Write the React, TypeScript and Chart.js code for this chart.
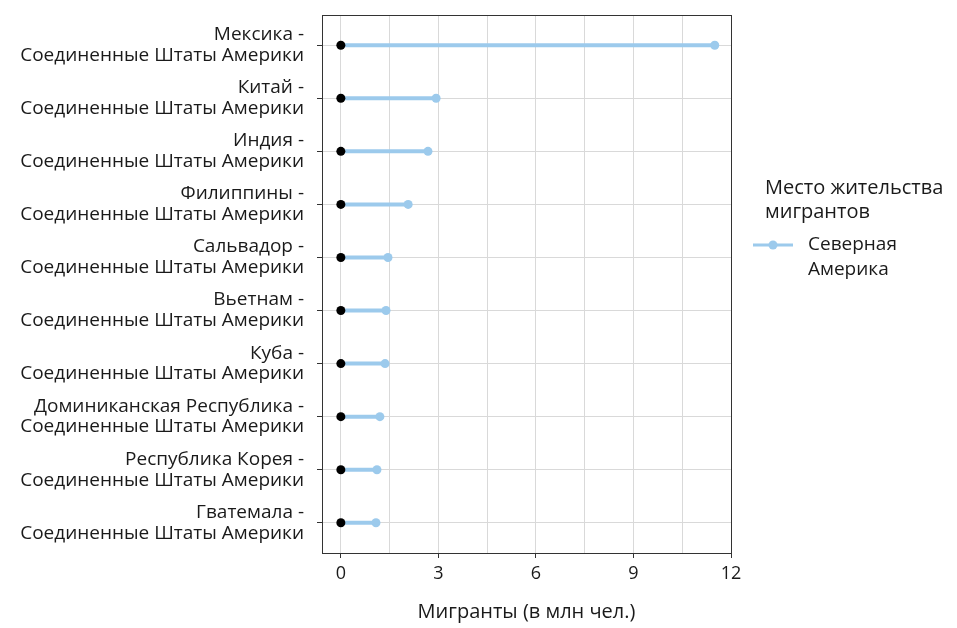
import { useEffect, useRef } from 'react';
import { Chart, registerables } from 'chart.js';

Chart.register(...registerables);

const origins = [
  'Мексика',
  'Китай',
  'Индия',
  'Филиппины',
  'Сальвадор',
  'Вьетнам',
  'Куба',
  'Доминиканская Республика',
  'Республика Корея',
  'Гватемала',
];
const destination = 'Соединенные Штаты Америки';
const startValues = [0, 0, 0, 0, 0, 0, 0, 0, 0, 0];
const migrants = [11.5, 2.93, 2.68, 2.07, 1.45, 1.39, 1.36, 1.2, 1.11, 1.08];
const xGridValues = [0, 1.5, 3, 4.5, 6, 7.5, 9, 10.5, 12];
const xTickLabels = [0, 3, 6, 9, 12];
const xTitle = 'Мигранты (в млн чел.)';
const legendTitle = ['Место жительства', 'мигрантов'];
const seriesName = ['Северная', 'Америка'];

const BLUE = '#9ccaec';
const FONT = '"Open Sans", "Noto Sans", sans-serif';
const TEXT = '#1a1a1a';

export default function App() {
  const ref = useRef<HTMLCanvasElement | null>(null);

  useEffect(() => {
    document.body.style.margin = '0';
    const canvas = ref.current;
    if (!canvas) return;

    const datasets = origins.map((o, i) => ({
      label: o,
      type: 'line' as const,
      data: [
        { x: startValues[i], y: i },
        { x: migrants[i], y: i },
      ],
      borderColor: BLUE,
      borderWidth: 4,
      pointRadius: 4.5,
      pointHoverRadius: 4.5,
      pointBorderWidth: 0,
      pointBackgroundColor: ['#000000', BLUE],
      showLine: true,
    }));

    const framePlugin = {
      id: 'frame',
      beforeDatasetsDraw(chart: any) {
        const { ctx, chartArea } = chart;
        ctx.save();
        ctx.strokeStyle = '#333333';
        ctx.lineWidth = 1;
        ctx.strokeRect(
          Math.round(chartArea.left) + 0.5,
          Math.round(chartArea.top) + 0.5,
          Math.round(chartArea.right - chartArea.left),
          Math.round(chartArea.bottom - chartArea.top)
        );
        ctx.restore();
      },
    };

    const legendPlugin = {
      id: 'customLegend',
      afterDraw(chart: any) {
        const { ctx } = chart;
        ctx.save();
        ctx.fillStyle = TEXT;
        ctx.font = `20px ${FONT}`;
        ctx.textAlign = 'left';
        ctx.textBaseline = 'middle';
        ctx.fillText(legendTitle[0], 765, 188);
        ctx.fillText(legendTitle[1], 765, 212);
        ctx.strokeStyle = BLUE;
        ctx.lineWidth = 3;
        ctx.beginPath();
        ctx.moveTo(753, 245);
        ctx.lineTo(793, 245);
        ctx.stroke();
        ctx.fillStyle = BLUE;
        ctx.beginPath();
        ctx.arc(773, 245, 4.5, 0, Math.PI * 2);
        ctx.fill();
        ctx.fillStyle = TEXT;
        ctx.font = `19px ${FONT}`;
        ctx.fillText(seriesName[0], 808, 245);
        ctx.fillText(seriesName[1], 808, 270);
        ctx.restore();
      },
    };

    const chart = new Chart(canvas, {
      type: 'scatter',
      data: { datasets },
      options: {
        animation: false,
        responsive: false,
        devicePixelRatio: 1,
        layout: { padding: { top: 15, right: 226, left: 0, bottom: 0 } },
        plugins: {
          legend: { display: false },
          tooltip: { enabled: false },
        },
        scales: {
          x: {
            type: 'linear',
            min: -0.58,
            max: 12,
            afterBuildTicks: (scale: any) => {
              scale.ticks = xGridValues.map((v) => ({ value: v }));
            },
            afterFit: (scale: any) => {
              scale.height = 75;
              scale.paddingLeft = 0;
              scale.paddingRight = 0;
            },
            grid: {
              color: '#d9d9d9',
              lineWidth: 1,
              tickLength: 5,
              tickColor: (ctx: any) =>
                ctx.tick && xTickLabels.includes(ctx.tick.value) ? '#333333' : 'rgba(0,0,0,0)',
            },
            border: { display: false },
            ticks: {
              autoSkip: false,
              maxRotation: 0,
              padding: 5,
              color: TEXT,
              font: { family: FONT, size: 18 },
              callback: (v: any) => (xTickLabels.includes(Number(v)) ? String(v) : ''),
            },
            title: {
              display: true,
              text: xTitle,
              color: TEXT,
              font: { family: FONT, size: 20 },
              padding: { top: 4, bottom: 4 },
            },
          },
          y: {
            type: 'linear',
            reverse: true,
            min: -0.57,
            max: 9.57,
            afterBuildTicks: (scale: any) => {
              scale.ticks = origins.map((_, i) => ({ value: i }));
            },
            afterFit: (scale: any) => {
              scale.width = 322;
              scale.paddingTop = 0;
              scale.paddingBottom = 0;
            },
            grid: {
              color: '#d9d9d9',
              lineWidth: 1,
              tickLength: 5,
              tickColor: '#333333',
            },
            border: { display: false },
            ticks: {
              autoSkip: false,
              padding: 13,
              color: TEXT,
              font: { family: FONT, size: 19, lineHeight: 1.1 },
              callback: (v: any) => {
                const i = Math.round(Number(v));
                return [origins[i] + ' -', destination];
              },
            },
          },
        },
      },
      plugins: [framePlugin, legendPlugin],
    });

    return () => chart.destroy();
  }, []);

  return (
    <div style={{ width: 957, height: 628 }}>
      <canvas ref={ref} width={957} height={628} style={{ width: 957, height: 628, display: 'block' }} />
    </div>
  );
}
